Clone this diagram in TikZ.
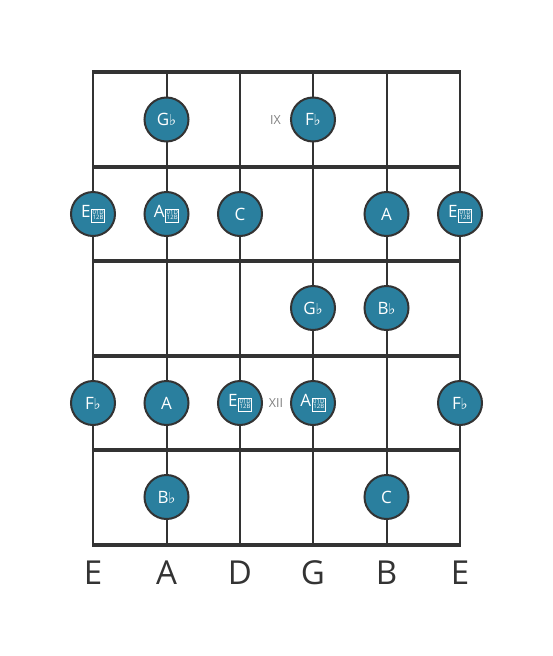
\documentclass[tikz,border=0pt]{standalone}
\usepackage{fontspec}
\setmainfont{Open Sans}
\newfontfamily\symfont{DejaVu Sans}
\usetikzlibrary{positioning}

\definecolor{notefill}{HTML}{2A7F9E}
\definecolor{boardgray}{HTML}{333333}
\definecolor{fretgray}{HTML}{808080}

% flat sign and the missing double flat glyph box
\newcommand{\flt}{{\symfont\fontsize{15}{15}\selectfont\kern-0.3pt♭}}
\newcommand{\dflt}{{\kern0.8pt\fboxsep=0.6pt\fboxrule=0.6pt\color{white}\fbox{\fontsize{6}{6}\selectfont\begin{tabular}{@{}c@{}}01D\\[-0.8pt]12B\end{tabular}}}}

\begin{document}
\begin{tikzpicture}[x=1pt, y=-1pt]
\useasboundingbox (0,0) rectangle (553,656);

\begin{scope}[draw=boardgray]
    % strings
    \draw [line width=2pt] (93, 72) -- (93, 545);
    \draw [line width=2pt] (166.5, 72) -- (166.5, 545);
    \draw [line width=2pt] (240, 72) -- (240, 545);
    \draw [line width=2pt] (313, 72) -- (313, 545);
    \draw [line width=2pt] (386.5, 72) -- (386.5, 545);
    \draw [line width=2pt] (460, 72) -- (460, 545);

    % frets
    \draw [line width=4.2pt] (92, 72) -- (461, 72);
    \draw [line width=4pt] (92, 166.5) -- (461, 166.5);
    \draw [line width=4pt] (92, 261) -- (461, 261);
    \draw [line width=4pt] (92, 355.5) -- (461, 355.5);
    \draw [line width=4pt] (92, 450) -- (461, 450);
    \draw [line width=4pt] (92, 545) -- (461, 545);
\end{scope}

\begin{scope}[every node/.style={circle, minimum size=44pt, inner sep=0pt,
        fill=notefill, draw=boardgray, line width=2pt, text=white,
        font=\fontsize{17}{20}\selectfont}]
    % fret IX
    \node (gfa) at (166.5, 119.5) {G\flt};
    \node (ffg) at (313, 119.5) {F\flt};

    % fret X
    \node (effe) at (93, 214) {E\dflt};
    \node (affa) at (166.5, 214) {A\dflt};
    \node (cd) at (240, 214) {C};
    \node (ab) at (386.5, 214) {A};
    \node (effhe) at (460, 214) {E\dflt};

    % fret XI
    \node (gfg) at (313, 308) {G\flt};
    \node (bfb) at (386.5, 308) {B\flt};

    % fret XII
    \node (ffe) at (93, 403) {F\flt};
    \node (aa) at (166.5, 403) {A};
    \node (effd) at (240, 403) {E\dflt};
    \node (affg) at (313, 403) {A\dflt};
    \node (ffhe) at (460, 403) {F\flt};

    % fret XIII
    \node (bfa) at (166.5, 497) {B\flt};
    \node (cb) at (386.5, 497) {C};
\end{scope}

\begin{scope}[every node/.style={text=fretgray, font=\fontsize{12.5}{14}\selectfont}]
    \node (nine) at (275.5, 120) {IX};
    \node (twelve) at (276, 403) {XII};
\end{scope}

\begin{scope}[every node/.style={text=boardgray, font=\fontsize{33}{38}\selectfont}]
    \node (se) at (93, 573) {E};
    \node (sa) at (166.5, 573) {A};
    \node (sd) at (240, 573) {D};
    \node (sg) at (313, 573) {G};
    \node (sb) at (386.5, 573) {B};
    \node (she) at (460, 573) {E};
\end{scope}
\end{tikzpicture}
\end{document}
